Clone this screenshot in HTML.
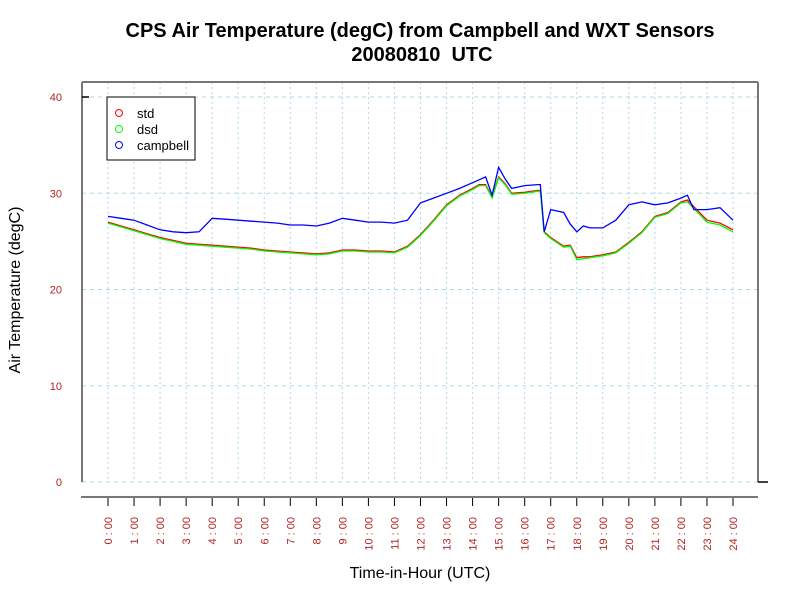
<!DOCTYPE html>
<html><head><meta charset="utf-8"><style>
body{margin:0;background:#fff;}
svg{display:block;font-family:"Liberation Sans",sans-serif;}
</style></head><body>
<svg id="chart" width="800" height="600">
<rect width="800" height="600" fill="#fff"/>
<text x="420" y="37" text-anchor="middle" font-size="20" font-weight="bold">CPS Air Temperature (degC) from Campbell and WXT Sensors</text>
<text x="422" y="61" text-anchor="middle" font-size="20" font-weight="bold">20080810&#160; UTC</text>
<g id="grid"></g>
<g id="axes"></g>
<g id="series"></g>
<text x="420" y="578" text-anchor="middle" font-size="16">Time-in-Hour (UTC)</text>
<text transform="translate(20,290) rotate(-90)" text-anchor="middle" font-size="16">Air Temperature (degC)</text>
<g>
<rect x="107" y="97" width="88" height="63" fill="#fff" stroke="#000" stroke-width="1"/>
<g><circle cx="119" cy="113" r="3.5" fill="none" stroke="#f00"/><text x="137" y="118" font-size="13">std</text></g>
<g><circle cx="119" cy="129" r="3.5" fill="none" stroke="#0f0"/><text x="137" y="134" font-size="13">dsd</text></g>
<g><circle cx="119" cy="145" r="3.5" fill="none" stroke="#00f"/><text x="137" y="150" font-size="13">campbell</text></g>
</g>
</svg>
<script>
const hours = [0,0.5,1,1.5,2,2.5,3,3.5,4,4.5,5,5.5,6,6.5,7,7.5,8,8.5,9,9.5,10,10.5,11,11.5,12,12.5,13,13.5,14,14.25,14.5,14.75,15,15.25,15.5,16,16.5,16.6,16.75,17,17.5,17.75,18,18.25,18.5,19,19.5,20,20.5,21,21.5,22,22.25,22.5,23,23.5,24];
const stdVals = [27.0,26.6,26.2,25.8,25.4,25.1,24.8,24.7,24.6,24.5,24.4,24.3,24.1,24.0,23.9,23.8,23.7,23.8,24.1,24.1,24.0,24.0,23.9,24.5,25.7,27.2,28.8,29.8,30.5,30.9,30.9,29.6,31.7,31.0,30.0,30.1,30.3,30.3,26.0,25.4,24.5,24.6,23.3,23.4,23.4,23.6,23.9,24.9,26.0,27.6,28.0,29.1,29.3,28.6,27.2,26.9,26.2];
const dsdVals = [26.9,26.5,26.1,25.7,25.3,25.0,24.7,24.6,24.5,24.4,24.3,24.2,24.0,23.9,23.8,23.7,23.6,23.7,24.0,24.0,23.9,23.9,23.8,24.4,25.6,27.1,28.7,29.7,30.4,30.8,30.8,29.5,31.6,30.9,29.9,30.0,30.2,30.2,25.9,25.3,24.4,24.5,23.1,23.2,23.3,23.5,23.8,24.8,25.9,27.5,27.9,29.0,29.1,28.4,27.0,26.7,26.0];
const campbellVals = [27.6,27.4,27.2,26.7,26.2,26.0,25.9,26.0,27.4,27.3,27.2,27.1,27.0,26.9,26.7,26.7,26.6,26.9,27.4,27.2,27.0,27.0,26.9,27.2,29.0,29.5,30.0,30.5,31.1,31.4,31.7,29.8,32.7,31.5,30.5,30.8,30.9,30.9,26.0,28.3,28.0,26.8,26.0,26.6,26.4,26.4,27.2,28.8,29.1,28.8,29.0,29.5,29.8,28.3,28.3,28.5,27.2];
const yTicks = [0,10,20,30,40];
const xTickLabels = ["0:00","1:00","2:00","3:00","4:00","5:00","6:00","7:00","8:00","9:00","10:00","11:00","12:00","13:00","14:00","15:00","16:00","17:00","18:00","19:00","20:00","21:00","22:00","23:00","24:00"];

const NS="http://www.w3.org/2000/svg";
const xs = h => 108 + h*(733-108)/24;
const ys = v => 482 - v*(482-97)/40;
function mk(tag, attrs, parent){const e=document.createElementNS(NS,tag);for(const k in attrs)e.setAttribute(k,attrs[k]);parent.appendChild(e);return e;}
const grid=document.getElementById('grid'), axes=document.getElementById('axes'), series=document.getElementById('series');

yTicks.forEach(v=>{
  const l=mk('line',{x1:82,x2:758,y1:ys(v),y2:ys(v),stroke:'#add8e6','stroke-dasharray':'4,4'},grid);
  
  
  const t=mk('text',{x:62,y:ys(v)+4,'text-anchor':'end','font-size':11,fill:'#b22222'},axes);
  t.textContent=v;
  
  
});
xTickLabels.forEach((lab,i)=>{
  const x=xs(i);
  const g=mk('line',{x1:x,x2:x,y1:82,y2:482,stroke:'#add8e6','stroke-dasharray':'2,3'},grid);
  
  
  const tk=mk('line',{x1:x,x2:x,y1:497,y2:506,stroke:'#000'},axes);
  
  
  const t=mk('text',{transform:`translate(${x+4},517) rotate(-90)`,'text-anchor':'end','font-size':11,fill:'#b22222'},axes);
  t.textContent=lab.replace(':',' : ');
  
  
});
[['M82,82 V482','left-axis'],['M758,82 V482','right-axis'],['M82,82 H758','top-border'],['M81,497 H758','x-axis-line']].forEach(([d,n])=>{
  const p=mk('path',{d:d,stroke:'#777','stroke-width':2,fill:'none'},axes);
  
  
});
const t1=mk('path',{d:'M82,97 H89 M758,482 H768',stroke:'#000','stroke-width':1.5},axes);



[[stdVals,'#f00','std-line'],[dsdVals,'#0f0','dsd-line'],[campbellVals,'#00f','campbell-line']].forEach(([vals,c,n])=>{
  const d=vals.map((v,i)=>(i?'L':'M')+xs(hours[i]).toFixed(1)+','+ys(v).toFixed(1)).join(' ');
  const p=mk('path',{d:d,stroke:c,'stroke-width':1.3,fill:'none'},series);
  
  
});
</script>
</body></html>
